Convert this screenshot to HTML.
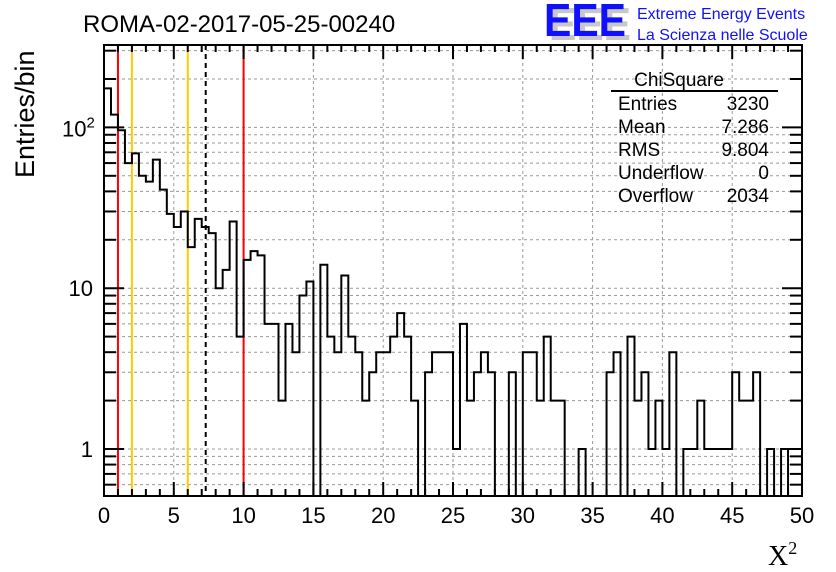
<!DOCTYPE html>
<html><head><meta charset="utf-8"><style>
html,body{margin:0;padding:0;background:#fff;}
svg{display:block;font-family:"Liberation Sans",sans-serif;}
</style></head><body>
<svg id="c" width="836" height="572" viewBox="0 0 836 572" xmlns="http://www.w3.org/2000/svg">
<text x="83" y="32" font-size="24">ROMA-02-2017-05-25-00240</text>
<g>
<text x="549" y="40" font-size="46" font-weight="bold" fill="#c8c8c8" textLength="82" lengthAdjust="spacingAndGlyphs">EEE</text>
<text x="544" y="36" font-size="46" font-weight="bold" fill="#1010ff" textLength="82" lengthAdjust="spacingAndGlyphs">EEE</text>
<text x="637" y="19" font-size="16" fill="#1010ff">Extreme Energy Events</text>
<text x="637" y="40" font-size="16" fill="#1010ff">La Scienza nelle Scuole</text>
</g>
<g id="grid"></g>
<g id="lines"></g>
<g id="hist"></g>
<g id="axes"></g>
<g font-size="19">
<text x="679" y="86" text-anchor="middle" font-size="19">ChiSquare</text>
<line x1="611" y1="91" x2="778" y2="91" stroke="#000" stroke-width="2"/>
<text x="618" y="110">Entries</text><text x="769" y="110" text-anchor="end">3230</text>
<text x="618" y="133">Mean</text><text x="769" y="133" text-anchor="end">7.286</text>
<text x="618" y="156">RMS</text><text x="769" y="156" text-anchor="end">9.804</text>
<text x="618" y="179">Underflow</text><text x="769" y="179" text-anchor="end">0</text>
<text x="618" y="202">Overflow</text><text x="769" y="202" text-anchor="end">2034</text>
</g>
<text transform="translate(34,178) rotate(-90)" font-size="27">Entries/bin</text>
<text x="768" y="565" font-size="28" font-family="Liberation Serif,serif">X<tspan dy="-11" font-size="18">2</tspan></text>
</svg>
<script>
const counts=[175,120,96,60,69,50,46,63,41,29,24,30,18,27,24,22,10,13,26,5,15,17,16,6,6,2,6,4,9,11,0,14,5,4,12,5,4,2,3,4,4,5,7,5,2,0,3,4,4,4,1,6,2,3,4,3,0,0,3,0,4,4,2,5,2,2,0,0,1,0,0,0,3,4,0,5,2,3,1,2,1,4,0,1,1,2,1,1,1,1,3,2,2,3,0,1,0,1,0,0];
const xTicks=[0,5,10,15,20,25,30,35,40,45,50];
const yMajor=[1,10,100];
const markers=[{x:1,c:"#ff0000"},{x:2,c:"#ffcc00"},{x:6,c:"#ffcc00"},{x:10,c:"#ff0000"}];
const meanVal=7.286;
const X0=104,X1=802,Y0=45,Y1=496,xmin=0,xmax=50;
const binW=0.5;
function xs(v){return X0+(v-xmin)/(xmax-xmin)*(X1-X0);}
function ys(v){return 449-160.8*Math.log10(v);}
const NS="http://www.w3.org/2000/svg";
function mk(t,a,p){const e=document.createElementNS(NS,t);for(const k in a)e.setAttribute(k,a[k]);p.appendChild(e);return e;}
const grid=document.getElementById('grid'),axes=document.getElementById('axes'),lines=document.getElementById('lines'),hist=document.getElementById('hist');
for(const t of xTicks){if(t===xmin||t===xmax)continue;const l=mk('line',{x1:xs(t),x2:xs(t),y1:Y0,y2:Y1,stroke:'#999','stroke-dasharray':'3,3'},grid);

}
const yTickVals=[];
for(let d=0.1;d<=1000;d*=10){for(let m=1;m<10;m++){const v=Math.round(d*m*100)/100;const y=ys(v);if(y>Y0&&y<Y1)yTickVals.push(v);}}
for(const v of yTickVals){const l=mk('line',{x1:X0,x2:X1,y1:ys(v),y2:ys(v),stroke:'#999','stroke-dasharray':'3,3'},grid);

}
for(const m of markers){const l=mk('line',{x1:xs(m.x),x2:xs(m.x),y1:Y0,y2:Y1,stroke:m.c,'stroke-width':2},lines);

}
const ml=mk('line',{x1:xs(meanVal),x2:xs(meanVal),y1:Y0,y2:Y1,stroke:'#000','stroke-width':2,'stroke-dasharray':'5,4'},lines);


const cp=mk('clipPath',{id:'pc'},document.getElementById('c'));mk('rect',{x:X0,y:Y0,width:X1-X0,height:Y1-Y0},cp);
let d='';
counts.forEach((c,i)=>{const y=c>0?ys(c):Y1+5;const xa=xs(i*binW),xb=xs((i+1)*binW);d+=(i===0?'M'+xa+','+y:'L'+xa+','+y)+'L'+xb+','+y;});
const hp=mk('path',{d:d,fill:'none',stroke:'#000','stroke-width':2,'clip-path':'url(#pc)'},hist);


const fr=mk('rect',{x:X0,y:Y0,width:X1-X0,height:Y1-Y0,fill:'none',stroke:'#000','stroke-width':2},axes);


for(let v=xmin;v<=xmax+1e-9;v+=1){const maj=v%5===0;const L=maj?14:7;
mk('line',{x1:xs(v),x2:xs(v),y1:Y1,y2:Y1-L,stroke:'#000','stroke-width':2},axes);
mk('line',{x1:xs(v),x2:xs(v),y1:Y0,y2:Y0+L,stroke:'#000','stroke-width':2},axes);}
for(const t of xTicks){const tx=mk('text',{x:xs(t),y:523,'font-size':22,'text-anchor':'middle'},axes);tx.textContent=t;

}
for(const v of yTickVals){const maj=yMajor.includes(v);const L=maj?20:12;
mk('line',{x1:X0,x2:X0+L,y1:ys(v),y2:ys(v),stroke:'#000','stroke-width':2},axes);
mk('line',{x1:X1,x2:X1-L,y1:ys(v),y2:ys(v),stroke:'#000','stroke-width':2},axes);}
const yl=[["1",1],["10",10]];
for(const [s,v] of yl){const tx=mk('text',{x:93,y:ys(v)+8,'font-size':22,'text-anchor':'end'},axes);tx.textContent=s;

}
const t2=mk('text',{x:62,y:ys(100)+9,'font-size':22},axes);t2.innerHTML='10<tspan dy="-9" font-size="15">2</tspan>';


</script>
</body></html>
